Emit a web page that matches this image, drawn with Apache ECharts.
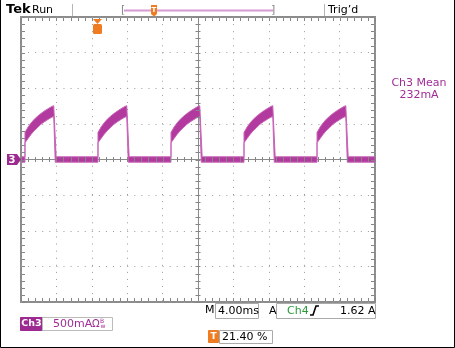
<!DOCTYPE html>
<html>
<head>
<meta charset="utf-8">
<script src="https://cdn.jsdelivr.net/npm/echarts@6/dist/echarts.min.js"></script>
<style>
  html, body { margin: 0; padding: 0; background: #fff; }
  #main { width: 455px; height: 348px; }
</style>
</head>
<body>
<div id="main"></div>
<script>
// time axis in ms (10 div x 4.00 ms), Ch3 in mA (8 div x 500 mA)
var timeRange = [-20, 20];
var currentRange = [-2000, 2000];
var minorTime = 0.8;
var minorCurrent = 100;

// rising edge of each current pulse (ms)
var pulseStarts = [-19.55, -11.30, -3.05, 5.20, 13.45];
// pulse envelope, read from one pulse (ms after rising edge, mA)
var shapeDt    = [0,   0.35, 0.70, 1.05, 1.40, 1.80, 2.25, 2.70, 3.05, 3.25];
var shapeUpper = [380, 455,  515,  565,  605,  645,  685,  720,  745,  755];
var shapeLower = [235, 295,  355,  405,  445,  495,  535,  570,  595,  600];
var fallUpperEnd = 3.52;
var fallLowerEnd = 3.42;
// noisy baseline between the pulses (mA)
var baseUpper = 38;
var baseLower = -38;

var meanLabel = ['Ch3 Mean', '232mA'];

// outline of the trace band: upper edge left to right, lower edge back
var band = [];
band.push([timeRange[0], baseUpper]);
pulseStarts.forEach(function (s) {
  band.push([s, baseUpper]);
  for (var i = 0; i < shapeDt.length; i++) band.push([s + shapeDt[i], shapeUpper[i]]);
  band.push([s + fallUpperEnd, baseUpper]);
});
band.push([timeRange[1], baseUpper]);
band.push([timeRange[1], baseLower]);
pulseStarts.slice().reverse().forEach(function (s) {
  band.push([s + fallLowerEnd, baseLower]);
  for (var i = shapeDt.length - 1; i >= 0; i--) band.push([s + shapeDt[i], shapeLower[i]]);
  band.push([s, baseLower]);
});
band.push([timeRange[0], baseLower]);

var font = '"DejaVu Sans", Verdana, sans-serif';
var purple = '#a02d96';
var orange = '#f07c22';
var tickColor = '#858585';

function txt(x, y, s, size, color, weight, align) {
  return { type: 'text', x: x, y: y, z: 10, style: {
    text: s, font: (weight || 'normal') + ' ' + size + 'px ' + font, fill: color || '#000',
    textAlign: align || 'left', textVerticalAlign: 'middle' } };
}
function box(x1, y1, x2, y2, stroke, fill) {
  return { type: 'rect', z: 5, shape: { x: x1 + 0.5, y: y1 + 0.5, width: x2 - x1, height: y2 - y1 },
    style: { stroke: stroke || '#aaa', fill: fill || '#fff', lineWidth: 1 } };
}
function seg(x1, y1, x2, y2) {
  return { type: 'line', z: 20, silent: true, shape: { x1: x1, y1: y1, x2: x2, y2: y2 },
    style: { stroke: tickColor, lineWidth: 1 } };
}

var dotLine = { show: true, lineStyle: { color: '#9a9a9a', width: 1, type: [1, 6.08] } };
function borderAxis(pos) {
  return {
    type: 'value', position: pos,
    axisLine: { show: false, onZero: false },
    axisTick: { show: false }, axisLabel: { show: false },
    splitLine: dotLine
  };
}
function centerAxis(pos) {
  return {
    type: 'value', position: pos,
    axisLine: { show: true, onZero: true, lineStyle: { color: '#8a8a8a', width: 1 } },
    axisTick: { show: false }, axisLabel: { show: false },
    splitLine: { show: false }
  };
}
function xa(a) { a.min = timeRange[0]; a.max = timeRange[1]; a.interval = 4; return a; }
function ya(a) { a.min = currentRange[0]; a.max = currentRange[1]; a.interval = 500; return a; }

var chart = echarts.init(document.getElementById('main'));
chart.setOption({
  backgroundColor: '#fff',
  animation: false,
  grid: { left: 21, top: 17, width: 354, height: 285, show: true,
    containLabel: false, outerBoundsMode: 'none',
    borderColor: '#8c8c8c', borderWidth: 2, backgroundColor: 'transparent' },
  xAxis: [ xa(borderAxis('bottom')), xa(centerAxis('bottom')) ],
  yAxis: [ ya(borderAxis('left')), ya(centerAxis('left')) ],
  series: [{
    type: 'custom',
    xAxisIndex: 0, yAxisIndex: 0,
    clip: true, z: 5,
    data: band,
    renderItem: function (params, api) {
      if (params.dataIndex !== 0) return null;
      var pts = band.map(function (p) { return api.coord(p); });
      return { type: 'polygon', shape: { points: pts },
        style: { fill: '#b23a9e', stroke: '#c965b9', lineWidth: 1 } };
    }
  }]
});

// graticule tick marks, positioned through the chart's own scales
function px(t, v) { return chart.convertToPixel({ gridIndex: 0 }, [t, v]); }
var ticks = [];
var nx = Math.round((timeRange[1] - timeRange[0]) / minorTime);
for (var i = 0; i <= nx; i++) {
  var t = timeRange[0] + i * minorTime;
  var pb = px(t, currentRange[0]), pt = px(t, currentRange[1]), pc = px(t, 0);
  var x = Math.round(pb[0]) + 0.5;
  ticks.push(seg(x, pb[1] - 1, x, pb[1] - 4));
  ticks.push(seg(x, pt[1] + 1, x, pt[1] + 4));
  ticks.push(seg(x, pc[1] - 2.5, x, pc[1] + 2.5));
}
var ny = Math.round((currentRange[1] - currentRange[0]) / minorCurrent);
for (var j = 0; j <= ny; j++) {
  var v = currentRange[0] + j * minorCurrent;
  var pl = px(timeRange[0], v), pr = px(timeRange[1], v), pm = px(0, v);
  var y = Math.round(pl[1]) + 0.5;
  ticks.push(seg(pl[0] + 1, y, pl[0] + 4, y));
  ticks.push(seg(pr[0] - 1, y, pr[0] - 4, y));
  ticks.push(seg(pm[0] - 2.5, y, pm[0] + 2.5, y));
}

var decor = [
  // outer frame
  { type: 'polyline', shape: { points: [[0.5, 0], [0.5, 347.5], [454.5, 347.5], [454.5, 0]] },
    style: { stroke: '#000', lineWidth: 1, fill: null } },
  // top status line
  txt(6, 10, 'Tek', 13, '#000', 'bold'),
  txt(32, 10, 'Run', 11, '#000'),
  { type: 'line', shape: { x1: 72.5, y1: 4, x2: 72.5, y2: 16 }, style: { stroke: '#b5b5b5', lineWidth: 1 } },
  { type: 'line', shape: { x1: 324.5, y1: 4, x2: 324.5, y2: 16 }, style: { stroke: '#b5b5b5', lineWidth: 1 } },
  txt(121, 10, '[', 11, '#888'),
  txt(271, 10, ']', 11, '#888'),
  { type: 'line', shape: { x1: 124, y1: 10.5, x2: 273, y2: 10.5 }, style: { stroke: '#d69ad2', lineWidth: 2 } },
  { type: 'polygon', z: 6, shape: { points: [[151, 5], [157, 5], [157, 14], [154, 16.5], [151, 14]] },
    style: { fill: orange } },
  txt(154, 10.5, 'T', 7, '#fff', 'bold', 'center'),
  txt(328, 10, 'Trig\u2019d', 11, '#000'),
  // trigger marker inside the graticule
  { type: 'polygon', z: 21, shape: { points: [[93, 19], [102, 19], [97.5, 24]] }, style: { fill: orange } },
  { type: 'rect', z: 21, shape: { x: 93, y: 24, width: 9, height: 10, r: 1.5 }, style: { fill: orange } },
  txt(97.5, 29.5, 'T', 9, '#fff', 'bold', 'center'),
  // Ch3 ground marker
  { type: 'polygon', z: 6, shape: { points: [[7, 154], [17, 154], [21, 159.5], [17, 165], [7, 165]] },
    style: { fill: '#9c2a90' } },
  txt(12, 160, '3', 10, '#fff', 'bold', 'center'),
  // measurement readout
  txt(419, 83, meanLabel[0], 11, purple, 'normal', 'center'),
  txt(419, 95, meanLabel[1], 11, purple, 'normal', 'center'),
  // horizontal / trigger settings
  txt(205, 310.5, 'M', 11, '#000'),
  box(215, 303, 258, 318, '#aaa'),
  txt(218, 311, '4.00ms', 11, '#000'),
  txt(269, 311, 'A', 11, '#000'),
  box(276, 303, 375, 318, '#aaa'),
  txt(287, 311, 'Ch4', 11, '#2a9a3a'),
  { type: 'polyline', z: 6, shape: { points: [[310, 315], [313, 315], [316, 306], [319, 306]] },
    style: { stroke: '#000', lineWidth: 1.6, fill: null } },
  txt(340, 311, '1.62 A', 11, '#000'),
  // vertical setting
  box(20, 317, 42, 330, '#9c2a90', '#9c2a90'),
  txt(31.5, 324, 'Ch3', 9.5, '#fff', 'bold', 'center'),
  box(42, 317, 112, 330, '#bbb'),
  txt(53, 324, '500mA', 11, purple),
  txt(92, 324, '\u03a9', 10, purple),
  txt(100, 321.5, 'B', 6, purple),
  txt(100.5, 326.5, 'w', 6, purple),
  // trigger position
  box(208, 330, 218, 342, orange, orange),
  txt(213.5, 336.5, 'T', 9, '#fff', 'bold', 'center'),
  box(219, 330, 272, 343, '#aaa'),
  txt(222, 337, '21.40 %', 11, '#000')
];

chart.setOption({ graphic: ticks.concat(decor) });
</script>
</body>
</html>
